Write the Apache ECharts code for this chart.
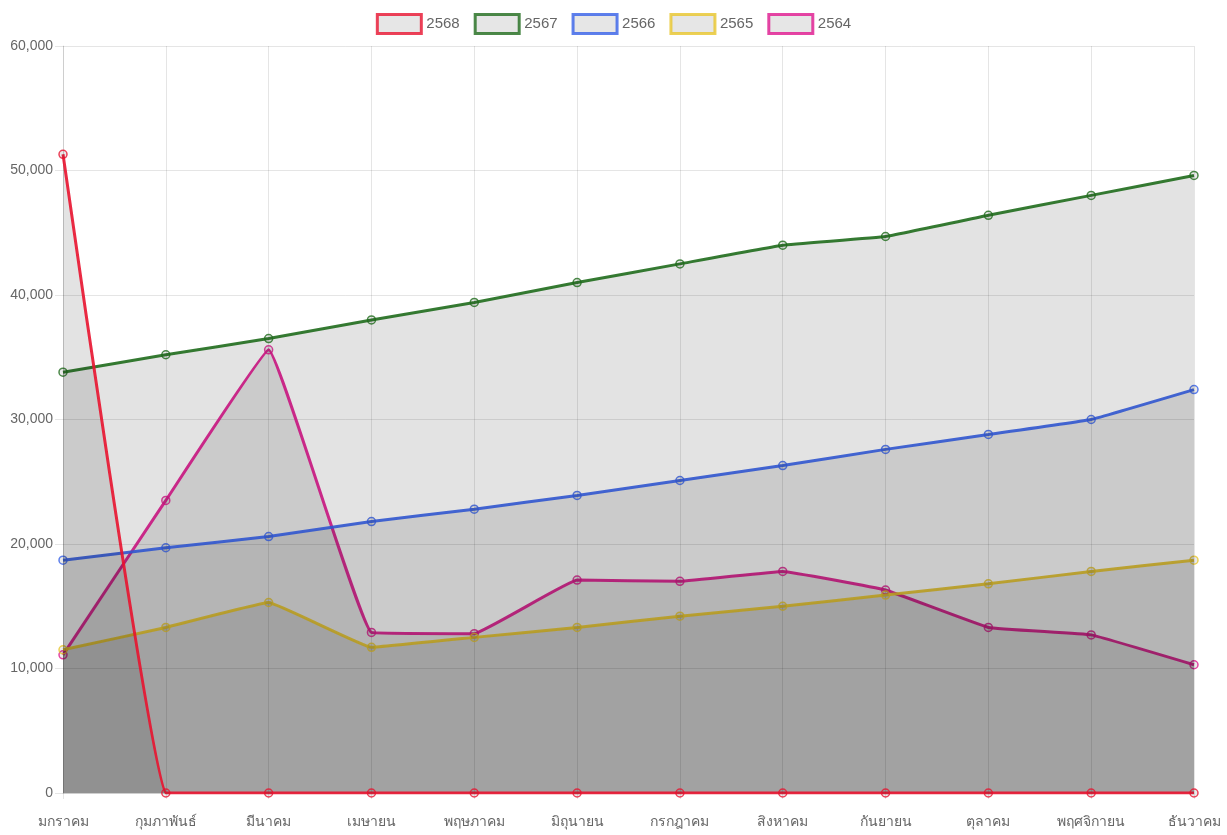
<!DOCTYPE html>
<html>
<head>
<meta charset="utf-8">
<style>
html,body{margin:0;padding:0;background:#fff;}
#chart{width:1227px;height:835px;}
</style>
<script src="https://cdn.jsdelivr.net/npm/echarts@6/dist/echarts.min.js"></script>
</head>
<body>
<div id="chart"></div>
<script>
const months = ['มกราคม','กุมภาพันธ์','มีนาคม','เมษายน','พฤษภาคม','มิถุนายน','กรกฎาคม','สิงหาคม','กันยายน','ตุลาคม','พฤศจิกายน','ธันวาคม'];
const years = ['2568','2567','2566','2565','2564'];
const colors = ['#e8132f','#1f6b1c','#3660e8','#e8c52a','#e0178f'];
const v2568 = [51300,0,0,0,0,0,0,0,0,0,0,0];
const v2567 = [33800,35200,36500,38000,39400,41000,42500,44000,44700,46400,48000,49600];
const v2566 = [18700,19700,20600,21800,22800,23900,25100,26300,27600,28800,30000,32400];
const v2565 = [11500,13300,15300,11700,12500,13300,14200,15000,15900,16800,17800,18700];
const v2564 = [11100,23500,35600,12900,12800,17100,17000,17800,16300,13300,12700,10300];
const values = [v2568,v2567,v2566,v2565,v2564];
const yTicks = {min:0,max:60000,interval:10000};

const chart = echarts.init(document.getElementById('chart'));
const font = "'Liberation Sans Narrow','Liberation Sans',Arial,sans-serif";
chart.setOption({
  animation:false,
  legend:{
    top:8,
    left:'center',
    itemWidth:44,
    itemHeight:19,
    itemGap:14,
    icon:'rect',
    textStyle:{color:'#666',fontSize:15,fontFamily:font},
    data: years.map((y,i)=>({name:y,itemStyle:{color:'#e0e0e0',borderColor:colors[i],borderWidth:3}}))
  },
  grid:{left:63,right:33,top:46,bottom:42,containLabel:false},
  xAxis:{
    type:'category',
    data:months,
    boundaryGap:false,
    axisLine:{show:true,lineStyle:{color:'rgba(0,0,0,0.1)'}},
    axisTick:{show:true,alignWithLabel:true,length:6,lineStyle:{color:'rgba(0,0,0,0.1)'}},
    splitLine:{show:true,lineStyle:{color:'rgba(0,0,0,0.1)'}},
    axisLabel:{color:'#666',fontSize:14,fontFamily:font,margin:22,interval:0}
  },
  yAxis:{
    type:'value',
    min:yTicks.min,max:yTicks.max,interval:yTicks.interval,
    axisLine:{show:true,lineStyle:{color:'rgba(0,0,0,0.1)'}},
    axisTick:{show:true,length:8,lineStyle:{color:'rgba(0,0,0,0.1)'}},
    splitLine:{show:true,lineStyle:{color:'rgba(0,0,0,0.1)'}},
    axisLabel:{color:'#666',fontSize:14,fontFamily:font,margin:10,
      formatter:v=>v.toLocaleString('en-US')}
  },
  series: years.map((y,i)=>({
    name:y,
    type:'line',
    data:values[i],
    smooth:0.07,
    z:10-i,
    symbol:'circle',
    symbolSize:8,
    lineStyle:{color:colors[i],width:3,opacity:0.9},
    itemStyle:{color:'rgba(0,0,0,0.1)',borderColor:colors[i],borderWidth:1.5,opacity:0.8},
    areaStyle:{color:'rgba(0,0,0,0.11)',opacity:1,origin:'start'}
  }))
});
</script>
</body>
</html>
